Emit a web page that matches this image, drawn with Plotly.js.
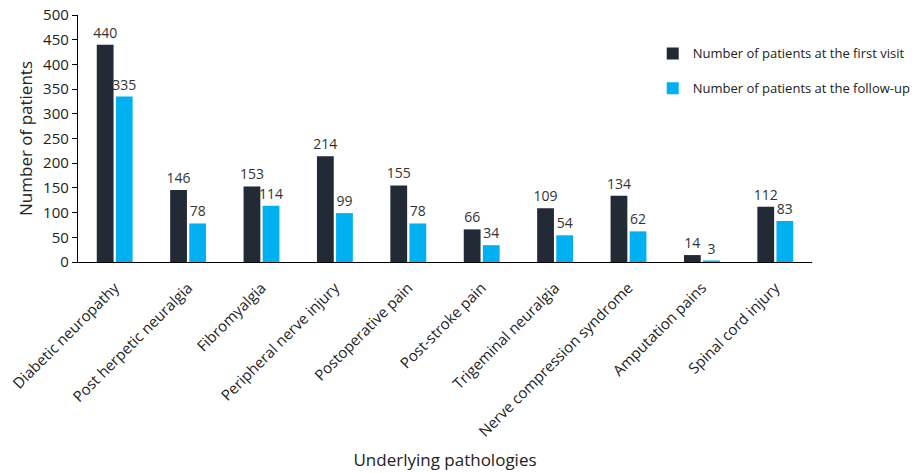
<!DOCTYPE html>
<html>
<head>
<meta charset="utf-8">
<script src="https://cdn.plot.ly/plotly-3.0.1.min.js"></script>
<style>html,body{margin:0;padding:0;background:#fff;}#chart{width:921px;height:473px;}</style>
</head>
<body>
<div id="chart"></div>
<script>
var categories = ["Diabetic neuropathy","Post herpetic neuralgia","Fibromyalgia","Peripheral nerve injury","Postoperative pain","Post-stroke pain","Trigeminal neuralgia","Nerve compression syndrome","Amputation pains","Spinal cord injury"];
var firstVisit = [440,146,153,214,155,66,109,134,14,112];
var followUp = [335,78,114,99,78,34,54,62,3,83];
var seriesNames = ["Number of patients at the first visit","Number of patients at the follow-up"];
var yTicks = [0,50,100,150,200,250,300,350,400,450,500];

var FONT = "Open Sans, Lato, sans-serif";
var traces = [
  {type:"bar", x:categories, y:firstVisit, name:seriesNames[0], legendgroup:"a",
   marker:{color:"#222a35"}, text:firstVisit.map(String), textposition:"outside", constraintext:"none",
   textfont:{size:14, color:"#333", family:FONT}, cliponaxis:false},
  {type:"bar", x:categories, y:followUp, name:seriesNames[1], legendgroup:"b",
   marker:{color:"#00b0f0"}, text:followUp.map(String), textposition:"outside", constraintext:"none",
   textfont:{size:14, color:"#333", family:FONT}, cliponaxis:false}
];
var layout = {
  width:921, height:473,
  margin:{l:78, r:109, t:15, b:211, autoexpand:false},
  paper_bgcolor:"#fff", plot_bgcolor:"#fff",
  font:{family:FONT, color:"#222"},
  barmode:"group", bargap:0.48, bargroupgap:0.12,
  showlegend:true,
  legend:{x:0.783, y:0.905, xanchor:"left", yanchor:"top", font:{size:13, color:"#222"}, tracegroupgap:15, bgcolor:"rgba(0,0,0,0)"},
  xaxis:{showline:true, linecolor:"#000", linewidth:1.2, ticks:"", tickangle:-45, ticklabelstandoff:10,
    tickfont:{size:15, color:"#222"}, title:{text:"Underlying pathologies", font:{size:17, color:"#222"}, standoff:14}},
  yaxis:{range:[0,500], tickvals:yTicks, showgrid:false, zeroline:false, showline:true, linecolor:"#000", linewidth:1.2,
    ticks:"outside", ticklen:5, tickcolor:"#000", tickfont:{size:15, color:"#222"},
    title:{text:"Number of patients", font:{size:17, color:"#222"}, standoff:6}}
};
Plotly.newPlot("chart", traces, layout, {displayModeBar:false, staticPlot:true});
</script>
</body>
</html>
